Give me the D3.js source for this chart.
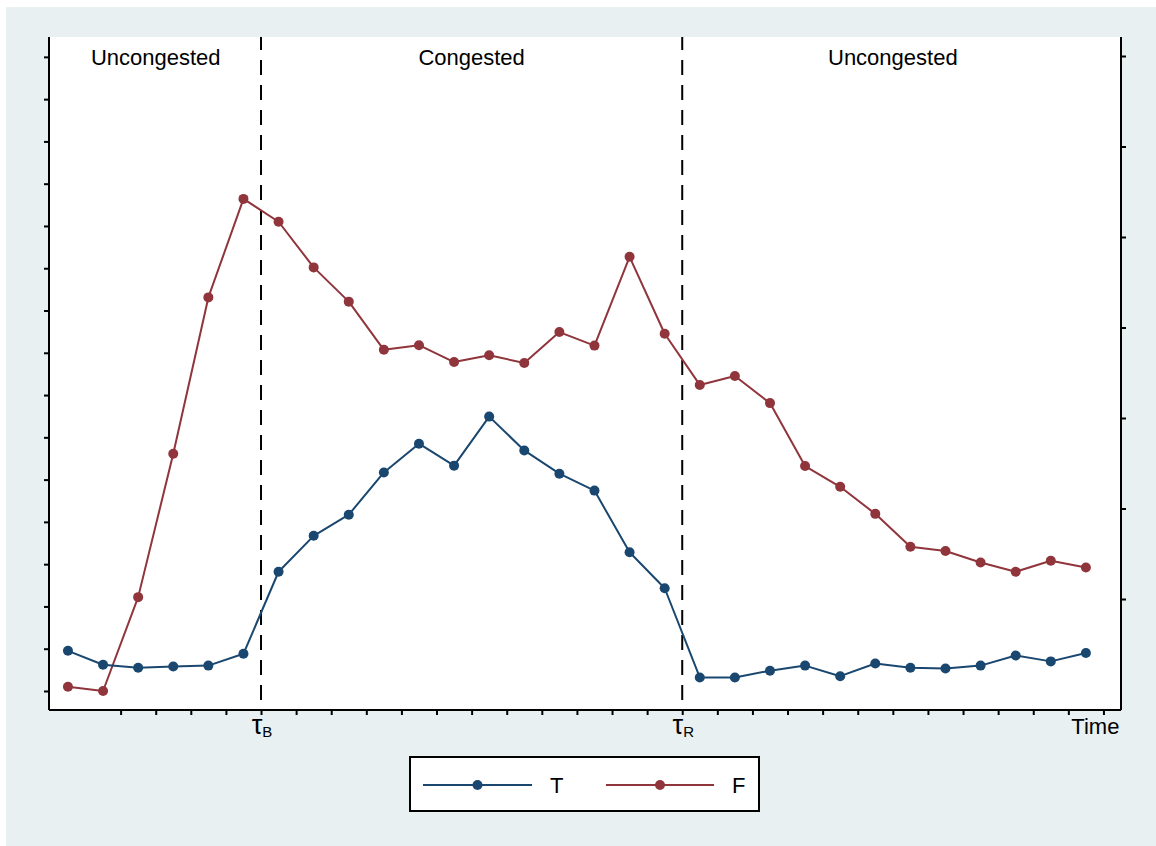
<!DOCTYPE html>
<html>
<head>
<meta charset="utf-8">
<script src="https://cdn.jsdelivr.net/npm/d3@7"></script>
<style>
  html, body { margin: 0; padding: 0; background: #ffffff; }
  svg { display: block; font-family: "Liberation Sans", Arial, sans-serif; }
</style>
</head>
<body>
<svg id="chart" width="1156" height="846"></svg>
<script>
// ---------------- DATA ----------------
const periods = [1,2,3,4,5,6,7,8,9,10,11,12,13,14,15,16,17,18,19,20,21,22,23,24,25,26,27,28,29,30];
const seriesNames = ["T", "F"];
const seriesT = [0.95,0.62,0.55,0.58,0.60,0.88,2.82,3.67,4.17,5.17,5.85,5.33,6.49,5.69,5.14,4.74,3.28,2.43,0.32,0.32,0.48,0.60,0.35,0.65,0.55,0.53,0.60,0.84,0.70,0.90];
const seriesF = [0.10,0.00,2.22,5.61,9.31,11.64,11.10,10.02,9.21,8.07,8.18,7.78,7.94,7.76,8.49,8.17,10.27,8.45,7.24,7.45,6.81,5.32,4.83,4.19,3.41,3.31,3.04,2.82,3.08,2.92];
const xTicks = [2.5,3.5,4.5,5.5,6.5,7.5,8.5,9.5,10.5,11.5,12.5,13.5,14.5,15.5,16.5,17.5,18.5,19.5,20.5,21.5,22.5,23.5,24.5,25.5,26.5,27.5,28.5,29.5,30.5];
const xLabelPos = [6.5, 18.5, 30.5];
const xLabelMain = ["τ", "τ", "Time"];
const xLabelSub = ["B", "R", ""];
const breakPoints = [6.5, 18.5];
const regionBounds = [0.5, 6.5, 18.5, 30.5];
const regionNames = ["Uncongested", "Congested", "Uncongested"];
const leftTicks = [0,1,2,3,4,5,6,7,8,9,10,11,12,13,14,15];
const rightTicks = [1,2,3,4,5,6,7];

// ---------------- LAYOUT ----------------
const svg = d3.select("#chart");
const colors = { T: "#1A476F", F: "#90353B" };
const plot = { left: 49, right: 1121, top: 37, bottom: 710 };

svg.append("rect").attr("x", 6).attr("y", 7).attr("width", 1150).attr("height", 839).attr("fill", "#E8F0F2");
svg.append("rect").attr("x", plot.left).attr("y", plot.top)
   .attr("width", plot.right - plot.left).attr("height", plot.bottom - plot.top).attr("fill", "#ffffff");

const x = d3.scaleLinear().domain([0.46, 31.0]).range([plot.left, plot.right]);
const y = d3.scaleLinear().domain([-0.45, 15.47]).range([plot.bottom, plot.top]);
const yR = d3.scaleLinear().domain([-0.2265, 7.21]).range([plot.bottom, plot.top]);

// Axes
const axL = svg.append("g").attr("transform", `translate(${plot.left},0)`)
  .call(d3.axisLeft(y).tickValues(leftTicks).tickSize(5).tickFormat(""));
const axR = svg.append("g").attr("transform", `translate(${plot.right},0)`)
  .call(d3.axisRight(yR).tickValues(rightTicks).tickSize(5).tickFormat(""));
const axB = svg.append("g").attr("transform", `translate(0,${plot.bottom})`)
  .call(d3.axisBottom(x).tickValues(xTicks).tickSize(5).tickFormat(""));
[axL, axR, axB].forEach(g => {
  g.select(".domain").attr("stroke", "#000").attr("stroke-width", 2);
  g.selectAll(".tick line").attr("stroke", "#000").attr("stroke-width", 2);
});
axL.select(".domain").attr("d", `M0,${plot.top}V${plot.bottom}`);
axR.select(".domain").attr("d", `M0,${plot.top}V${plot.bottom}`);
axB.select(".domain").attr("d", `M${plot.left},0H${plot.right}`);

// X tick labels
xLabelPos.forEach((p, i) => {
  const t = svg.append("text")
    .attr("y", 734)
    .attr("fill", "#000");
  if (xLabelSub[i]) {
    t.attr("x", x(p) + 1).attr("text-anchor", "middle").attr("font-size", 27);
    t.append("tspan").text(xLabelMain[i]);
    t.append("tspan").attr("font-size", 15).attr("dy", 3).text(xLabelSub[i]);
  } else {
    t.attr("x", x(p) + 16).attr("text-anchor", "end").attr("font-size", 22).text(xLabelMain[i]);
  }
});

// Dashed break lines
svg.selectAll("line.brk").data(breakPoints).enter().append("line")
  .attr("class", "brk")
  .attr("x1", d => x(d)).attr("x2", d => x(d))
  .attr("y1", plot.top).attr("y2", plot.bottom)
  .attr("stroke", "#000").attr("stroke-width", 2)
  .attr("stroke-dasharray", "15,10").attr("stroke-dashoffset", 2);

// Region labels
regionNames.forEach((name, i) => {
  svg.append("text")
    .attr("x", x((regionBounds[i] + regionBounds[i + 1]) / 2))
    .attr("y", 65)
    .attr("text-anchor", "middle")
    .attr("font-size", 22)
    .attr("fill", "#000")
    .text(name);
});

// Series
const data = { T: seriesT, F: seriesF };
["F", "T"].forEach(k => {
  const pts = periods.map((p, i) => [p, data[k][i]]);
  const line = d3.line().x(d => x(d[0])).y(d => y(d[1]));
  svg.append("path").datum(pts)
    .attr("fill", "none").attr("stroke", colors[k]).attr("stroke-width", 2)
    .attr("stroke-linejoin", "round").attr("d", line);
  svg.selectAll(null).data(pts).enter().append("circle")
    .attr("cx", d => x(d[0])).attr("cy", d => y(d[1])).attr("r", 5)
    .attr("fill", colors[k]);
});

// Legend
const lg = svg.append("g");
lg.append("rect").attr("x", 410).attr("y", 757).attr("width", 349).attr("height", 54)
  .attr("fill", "#fff").attr("stroke", "#000").attr("stroke-width", 2);
const legendItems = [
  { key: "T", x1: 423, x2: 532, tx: 550 },
  { key: "F", x1: 606, x2: 714, tx: 732 }
];
legendItems.forEach(it => {
  lg.append("line").attr("x1", it.x1).attr("x2", it.x2).attr("y1", 785).attr("y2", 785)
    .attr("stroke", colors[it.key]).attr("stroke-width", 2);
  lg.append("circle").attr("cx", (it.x1 + it.x2) / 2).attr("cy", 785).attr("r", 5)
    .attr("fill", colors[it.key]);
  lg.append("text").attr("x", it.tx).attr("y", 793).attr("font-size", 22).attr("fill", "#000")
    .text(it.key);
});
</script>
</body>
</html>
